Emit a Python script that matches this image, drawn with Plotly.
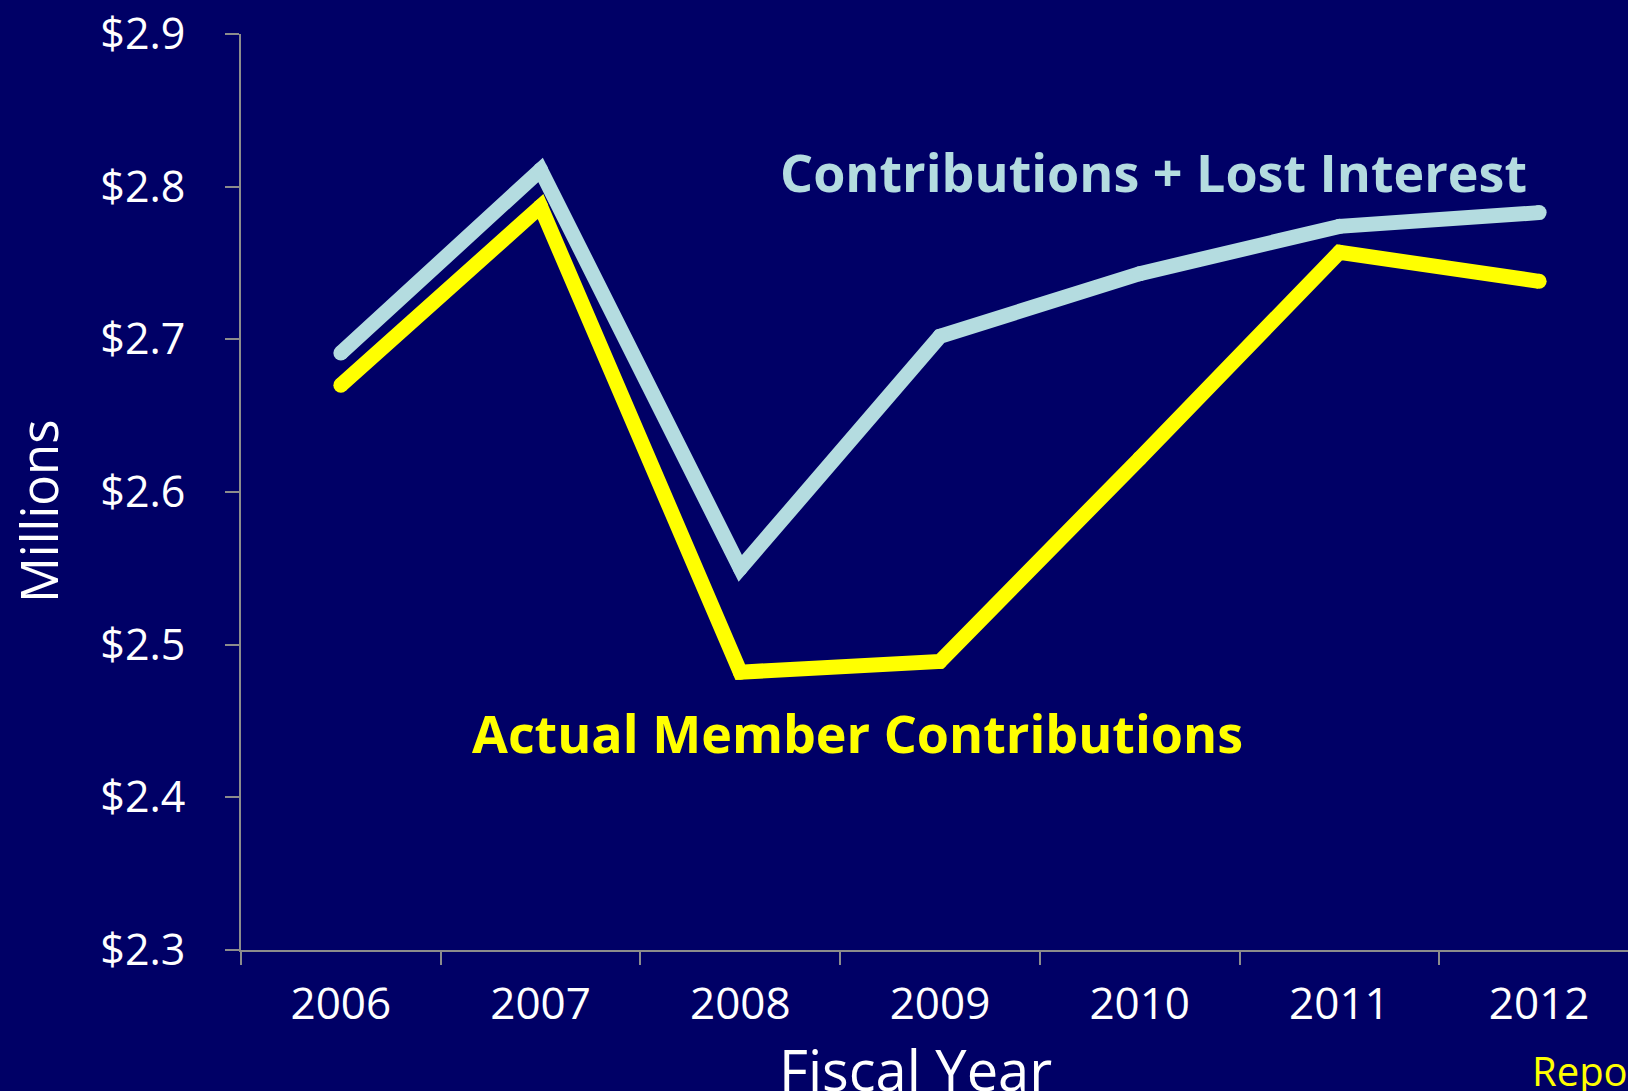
import plotly.graph_objects as go

years = ["2006", "2007", "2008", "2009", "2010", "2011", "2012"]
lost_interest = [2.691, 2.811, 2.550, 2.702, 2.743, 2.774, 2.783]
actual = [2.670, 2.787, 2.482, 2.489, 2.622, 2.757, 2.738]
y_ticks = [2.3, 2.4, 2.5, 2.6, 2.7, 2.8, 2.9]

BG = "#000066"
LIGHT = "#B4DCE0"
YEL = "#FFFF00"
AX = "#8C8C8C"
FONT = "'Open Sans', Lato, sans-serif"

fig = go.Figure()
fig.add_trace(go.Scatter(x=years, y=lost_interest, mode="lines+markers",
                         line=dict(color=LIGHT, width=15),
                         marker=dict(color=LIGHT, size=15),
                         cliponaxis=False, showlegend=False, hoverinfo="skip"))
fig.add_trace(go.Scatter(x=years, y=actual, mode="lines+markers",
                         line=dict(color=YEL, width=15),
                         marker=dict(color=YEL, size=15),
                         cliponaxis=False, showlegend=False, hoverinfo="skip"))

W, H = 1628, 1091
L, R, T, B = 241, 0, 34, 141
pw, ph = W - L - R, H - T - B

def px(x):
    return (x - L) / pw

def py(y):
    return (H - B - y) / ph

fig.update_layout(
    width=W, height=H,
    margin=dict(l=L, r=R, t=T, b=B, pad=0),
    paper_bgcolor=BG, plot_bgcolor=BG,
    font=dict(family=FONT, color="white"),
    showlegend=False,
)
fig.update_xaxes(type="category", categoryorder="array", categoryarray=years,
                 range=[-0.5, 6.445], tickson="boundaries",
                 ticks="outside", ticklen=13, tickwidth=2, tickcolor=AX,
                 showline=True, linecolor=AX, linewidth=2, showgrid=False,
                 zeroline=False, tickfont=dict(size=44, color="white"),
                 ticklabelstandoff=14)
fig.update_yaxes(range=[2.3, 2.9], tickvals=y_ticks,
                 ticktext=["$%.1f" % v for v in y_ticks],
                 ticks="outside", ticklen=14, tickwidth=2, tickcolor=AX,
                 showline=True, linecolor=AX, linewidth=2, showgrid=False,
                 zeroline=False, tickfont=dict(size=43, color="white"),
                 ticklabelstandoff=31)

fig.add_annotation(text="Millions", xref="paper", yref="paper",
                   x=px(38), y=py(511), textangle=-90, showarrow=False,
                   xanchor="center", yanchor="middle",
                   font=dict(size=51, color="white"))
fig.add_annotation(text="Fiscal Year", xref="paper", yref="paper",
                   x=px(915), y=py(1069), showarrow=False,
                   xanchor="center", yanchor="middle",
                   font=dict(size=56, color="white"))
fig.add_annotation(text="<b>Contributions + Lost Interest</b>", xref="paper", yref="paper",
                   x=px(1153), y=py(171), showarrow=False,
                   xanchor="center", yanchor="middle",
                   font=dict(size=52, color=LIGHT))
fig.add_annotation(text="<b>Actual Member Contributions</b>", xref="paper", yref="paper",
                   x=px(857), y=py(732), showarrow=False,
                   xanchor="center", yanchor="middle",
                   font=dict(size=52, color=YEL))
fig.add_annotation(text="Report", xref="paper", yref="paper",
                   x=px(1530), y=py(1070), showarrow=False,
                   xanchor="left", yanchor="middle",
                   font=dict(size=40, color=YEL))

fig.write_html("out.html", config={"displayModeBar": False},
               post_script="document.body.style.margin='0';")
